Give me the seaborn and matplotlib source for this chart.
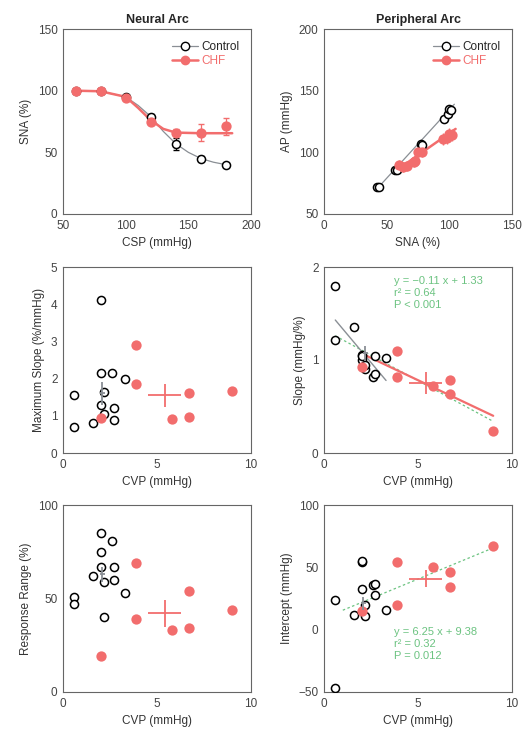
import numpy as np
import pandas as pd
import matplotlib
matplotlib.use('Agg')
import matplotlib.pyplot as plt
import seaborn as sns
from matplotlib.lines import Line2D

sns.set_style('white')
plt.rcParams['font.family'] = ['Liberation Sans', 'DejaVu Sans']
plt.rcParams['font.size'] = 8.5

red = '#f26d6d'
grey = '#8a8f95'
green = '#6cc381'
msize = 7

# ---- Neural arc (CSP -> SNA)
csp = [60, 80, 100, 120, 140, 160, 180]
sna_ctrl = [100, 100, 95, 79, 57, 45, 40]
sna_ctrl_err = [0, 0, 0, 2, 5, 2, 1]
sna_chf = [100, 100, 94, 75, 66, 66, 71]
sna_chf_err = [0, 0, 0, 2, 3, 7, 7]
fit_ctrl_x = [60, 80, 100, 110, 120, 130, 140, 150, 160, 170, 180]
fit_ctrl_y = [100, 99.5, 95, 88, 79, 67, 57, 50, 45, 42, 40]
fit_chf_x = [60, 80, 100, 110, 120, 130, 140, 160, 185]
fit_chf_y = [100, 99.5, 95, 86, 76, 69, 66, 65.5, 65.5]

# ---- Peripheral arc (SNA -> AP)
per_sna_ctrl = [42, 44, 57, 58, 77, 78, 96, 99, 100, 101]
ap_ctrl = [72, 72, 86, 86, 107, 106, 127, 131, 135, 134]
per_sna_chf = [60, 63, 66, 72, 73, 75, 78, 95, 98, 100, 102]
ap_chf = [90, 88, 89, 92, 93, 100, 100, 111, 112, 115, 114]
ap_chf_err = [4, 4, 4, 4, 4, 4, 4, 5, 5, 5, 5]
line_ctrl_x = [41, 104]
line_ctrl_y = [69, 139]
line_chf_x = [60, 105]
line_chf_y = [87, 119]

# ---- individual data vs CVP
cvp_ctrl = [0.6, 0.6, 1.6, 2.0, 2.0, 2.0, 2.2, 2.6, 2.7, 2.7, 3.3, 2.2]
cvp_chf = [2.0, 3.9, 3.9, 5.8, 6.7, 6.7, 9.0]
maxslope_ctrl = [0.7, 1.55, 0.8, 4.1, 2.15, 1.3, 1.65, 2.15, 1.2, 0.9, 2.0, 1.05]
maxslope_chf = [0.95, 2.9, 1.85, 0.92, 0.97, 1.6, 1.68]
slope_ctrl = [1.8, 1.22, 1.35, 1.0, 1.05, 1.04, 0.9, 0.82, 1.04, 0.85, 1.02, 0.95]
slope_chf = [0.92, 1.1, 0.82, 0.72, 0.78, 0.63, 0.24]
range_ctrl = [51, 47, 62, 85, 75, 67, 59, 81, 67, 60, 53, 40]
range_chf = [19, 69, 39, 33, 34, 54, 44]
icpt_ctrl = [24, -47, 12, 54, 33, 55, 11, 36, 37, 28, 16, 20]
icpt_chf = [15, 54, 20, 50, 46, 34, 67]

# group means (cross markers) : x, xerr, y, yerr
mean_ctrl = {'maxslope': (2.1, 0.15, 1.6, 0.3), 'slope': (2.2, 0.15, 1.07, 0.08),
             'range': (2.1, 0.15, 63, 4), 'icpt': (2.1, 0.15, 21, 5)}
mean_chf = {'maxslope': (5.4, 0.9, 1.55, 0.3), 'slope': (5.4, 0.9, 0.75, 0.12),
            'range': (5.4, 0.9, 42, 7), 'icpt': (5.4, 0.9, 41, 7)}

W, H = 528, 731
fig = plt.figure(figsize=(W / 100, H / 100), dpi=100)
lefts = [63, 324]
rows = [(29, 214), (267, 453), (505, 692)]
axes = []
for top, bot in rows:
    r = []
    for l in lefts:
        r.append(fig.add_axes([l / W, 1 - bot / H, 188 / W, (bot - top) / H]))
    axes.append(r)


def style(ax):
    for s in ax.spines.values():
        s.set_color('#666666')
        s.set_linewidth(0.8)
    ax.tick_params(axis='both', length=3, width=0.7, direction='in', colors='#444444',
                   labelsize=8.5, pad=4)
    ax.xaxis.label.set_color('#333333')
    ax.yaxis.label.set_color('#333333')


def open_pts(ax, x, y):
    sns.scatterplot(x=x, y=y, ax=ax, s=34, facecolor='white', edgecolor='black', linewidth=1.1,
                    zorder=4, legend=False)


def red_pts(ax, x, y):
    sns.scatterplot(x=x, y=y, ax=ax, s=55, color=red, edgecolor=red, linewidth=0, zorder=5,
                    legend=False)


def cross(ax, m, color):
    x, xe, y, ye = m
    ax.errorbar([x], [y], xerr=[xe], yerr=[ye], fmt='none', ecolor=color, elinewidth=1.3, zorder=6)


def arc_legend(ax):
    h = [Line2D([], [], color=grey, lw=0.9, marker='o', mfc='white', mec='black', ms=6),
         Line2D([], [], color=red, lw=1.8, marker='o', mfc=red, mec=red, ms=6)]
    leg = ax.legend(h, ['Control', 'CHF'], loc='upper right', frameon=False, fontsize=8.5,
                    handlelength=2.2, handletextpad=0.3, borderaxespad=0.6, labelspacing=0.2)
    leg.get_texts()[1].set_color(red)


# panel 1
ax = axes[0][0]
sns.lineplot(x=fit_ctrl_x, y=fit_ctrl_y, ax=ax, color=grey, lw=0.9)
sns.lineplot(x=fit_chf_x, y=fit_chf_y, ax=ax, color=red, lw=1.8)
ax.errorbar(csp, sna_ctrl, yerr=sna_ctrl_err, fmt='none', ecolor='black', elinewidth=0.8, capsize=2)
ax.errorbar(csp, sna_chf, yerr=sna_chf_err, fmt='none', ecolor=red, elinewidth=0.9, capsize=2)
open_pts(ax, csp, sna_ctrl)
red_pts(ax, csp, sna_chf)
ax.set_xlim(50, 200)
ax.set_ylim(0, 150)
ax.set_xticks([50, 100, 150, 200])
ax.set_yticks([0, 50, 100, 150])
ax.set_xlabel('CSP (mmHg)')
ax.set_ylabel('SNA (%)')
ax.set_title('Neural Arc', fontweight='bold', fontsize=9, pad=4)
arc_legend(ax)

# panel 2
ax = axes[0][1]
sns.lineplot(x=line_ctrl_x, y=line_ctrl_y, ax=ax, color=grey, lw=0.9)
sns.lineplot(x=line_chf_x, y=line_chf_y, ax=ax, color=red, lw=1.8)
ax.errorbar(per_sna_chf, ap_chf, yerr=ap_chf_err, xerr=[3] * len(ap_chf), fmt='none',
            ecolor=red, elinewidth=1.0, zorder=3)
ax.errorbar(per_sna_ctrl, ap_ctrl, yerr=[3] * len(ap_ctrl), xerr=[2] * len(ap_ctrl), fmt='none',
            ecolor='black', elinewidth=0.7, zorder=3)
red_pts(ax, per_sna_chf, ap_chf)
open_pts(ax, per_sna_ctrl, ap_ctrl)
ax.set_xlim(0, 150)
ax.set_ylim(50, 200)
ax.set_xticks([0, 50, 100, 150])
ax.set_yticks([50, 100, 150, 200])
ax.set_xlabel('SNA (%)')
ax.set_ylabel('AP (mmHg)')
ax.set_title('Peripheral Arc', fontweight='bold', fontsize=9, pad=4)
arc_legend(ax)

# panel 3
ax = axes[1][0]
open_pts(ax, cvp_ctrl, maxslope_ctrl)
red_pts(ax, cvp_chf, maxslope_chf)
cross(ax, mean_ctrl['maxslope'], grey)
cross(ax, mean_chf['maxslope'], red)
ax.set_xlim(0, 10)
ax.set_ylim(0, 5)
ax.set_xticks([0, 5, 10])
ax.set_yticks([0, 1, 2, 3, 4, 5])
ax.set_xlabel('CVP (mmHg)')
ax.set_ylabel('Maximum Slope (%/mmHg)')

# panel 4
ax = axes[1][1]
sns.lineplot(x=[0.6, 9.0], y=[1.26, 0.34], ax=ax, color=green, lw=0.9, linestyle=(0, (2, 2)))
sns.lineplot(x=[0.6, 3.3], y=[1.43, 0.78], ax=ax, color=grey, lw=1.0)
sns.lineplot(x=[2.0, 9.0], y=[1.07, 0.40], ax=ax, color=red, lw=1.6)
open_pts(ax, cvp_ctrl, slope_ctrl)
red_pts(ax, cvp_chf, slope_chf)
cross(ax, mean_ctrl['slope'], grey)
cross(ax, mean_chf['slope'], red)
ax.text(0.37, 0.95, 'y = \u22120.11 x + 1.33\nr\u00b2 = 0.64\nP < 0.001', transform=ax.transAxes,
        color=green, fontsize=8, va='top', linespacing=1.25)
ax.set_xlim(0, 10)
ax.set_ylim(0, 2)
ax.set_xticks([0, 5, 10])
ax.set_yticks([0, 1, 2])
ax.set_xlabel('CVP (mmHg)')
ax.set_ylabel('Slope (mmHg/%)')

# panel 5
ax = axes[2][0]
open_pts(ax, cvp_ctrl, range_ctrl)
red_pts(ax, cvp_chf, range_chf)
cross(ax, mean_ctrl['range'], grey)
cross(ax, mean_chf['range'], red)
ax.set_xlim(0, 10)
ax.set_ylim(0, 100)
ax.set_xticks([0, 5, 10])
ax.set_yticks([0, 50, 100])
ax.set_xlabel('CVP (mmHg)')
ax.set_ylabel('Response Range (%)')

# panel 6
ax = axes[2][1]
sns.lineplot(x=[1.0, 9.0], y=[15.6, 65.6], ax=ax, color=green, lw=0.9, linestyle=(0, (2, 2)))
open_pts(ax, cvp_ctrl, icpt_ctrl)
red_pts(ax, cvp_chf, icpt_chf)
cross(ax, mean_ctrl['icpt'], grey)
cross(ax, mean_chf['icpt'], red)
ax.text(0.37, 0.35, 'y = 6.25 x + 9.38\nr\u00b2 = 0.32\nP = 0.012', transform=ax.transAxes,
        color=green, fontsize=8, va='top', linespacing=1.25)
ax.set_xlim(0, 10)
ax.set_ylim(-50, 100)
ax.set_xticks([0, 5, 10])
ax.set_yticks([-50, 0, 50, 100])
ax.set_xlabel('CVP (mmHg)')
ax.set_ylabel('Intercept (mmHg)')

for r in axes:
    for ax in r:
        style(ax)

fig.savefig('out.png', dpi=100)
